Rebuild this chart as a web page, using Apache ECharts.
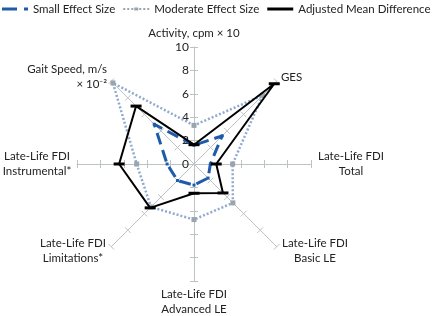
<!DOCTYPE html>
<html>
<head>
<meta charset="utf-8">
<script src="https://cdn.jsdelivr.net/npm/echarts@6/dist/echarts.min.js"></script>
<style>
  html, body { margin: 0; padding: 0; background: #fff; }
  #chart { width: 432px; height: 316px; }
</style>
</head>
<body>
<div id="chart"></div>
<script>
// axes, clockwise from the top
var axisNames = ['Activity, cpm × 10', 'GES', 'Late-Life FDI\nTotal', 'Late-Life FDI\nBasic LE',
    'Late-Life FDI\nAdvanced LE', 'Late-Life FDI\nLimitations*', 'Late-Life FDI\nInstrumental*', 'Gait Speed, m/s\n× 10⁻²'];
var smallEffect = [1.6, 3.4, 1.4, 1.7, 1.8, 2.0, 2.3, 4.8];
var moderateEffect = [3.3, 8.3, 3.3, 4.7, 4.75, 5.2, 4.9, 9.8];
var adjustedDiff = [1.65, 9.7, 1.9, 3.5, 2.5, 5.3, 6.4, 7.0];
var seriesNames = ['Small Effect Size', 'Moderate Effect Size', 'Adjusted Mean Difference'];

// echarts lays radar axes out counter-clockwise, so flip the order after the first
var order = [0, 7, 6, 5, 4, 3, 2, 1];
function reorder(arr) {
    return order.map(function (i) { return arr[i]; });
}

var font = 'Lato, "Noto Sans", sans-serif';
var grey = '#bcc3c4';

// legend icons drawn like the excel ones (line + marker)
var iconSmall = 'path://M0,0h15v3h-15z M22,0h3v3h-3z M25,0h1v3h-1z';
var iconModerate = 'path://M0,0.5h2v2h-2z M4,0.5h2v2h-2z M8,0.5h2v2h-2z M11,0h4v3h-4z M16,0.5h2v2h-2z M20,0.5h2v2h-2z M24,0.5h2v2h-2z';
var iconAdjusted = 'path://M0,0h26v3h-26z';

var radarBase = {
    center: [194, 164],
    radius: 117,
    startAngle: 90,
    splitNumber: 5,
    shape: 'polygon',
    splitLine: {show: false},
    splitArea: {show: false}
};

var chart = echarts.init(document.getElementById('chart'));
chart.setOption({
    animation: false,
    legend: {
        top: 3,
        left: 2,
        padding: 0,
        itemGap: 8,
        itemWidth: 26,
        itemHeight: 3,
        textStyle: {fontFamily: font, fontSize: 11.5, color: '#222'},
        data: [
            {name: seriesNames[0], icon: iconSmall},
            {name: seriesNames[1], icon: iconModerate},
            {name: seriesNames[2], icon: iconAdjusted}
        ]
    },
    radar: [
        Object.assign({}, radarBase, {
            axisName: {
                fontFamily: font, fontSize: 11.5, color: '#222', lineHeight: 15,
                formatter: function (name) {
                    if (name.indexOf('Late-Life') === 0) {
                        return name.split('\n').map(function (s) { return '{c|' + s + '}'; }).join('\n');
                    }
                    return name;
                },
                rich: {
                    c: {fontFamily: font, fontSize: 11.5, color: '#222', lineHeight: 15, width: 68, align: 'center'}
                }
            },
            nameGap: 6,
            axisLine: {lineStyle: {color: grey, width: 1}},
            axisTick: {show: true, length: 4, lineStyle: {color: grey}},
            axisLabel: {show: false},
            indicator: reorder(axisNames).map(function (n, i) {
                var ind = {name: n, min: 0, max: 10};
                if (i === 0) {
                    ind.axisLabel = {show: true, fontFamily: font, fontSize: 12, color: '#222', margin: 5};
                }
                return ind;
            })
        }),
        // second copy only for the other half of the crossing ticks
        Object.assign({}, radarBase, {
            axisName: {show: false},
            axisLine: {show: false},
            axisTick: {show: true, length: -4, lineStyle: {color: grey}},
            axisLabel: {show: false},
            indicator: reorder(axisNames).map(function (n) {
                return {name: n, min: 0, max: 10};
            })
        })
    ],
    series: [
        {
            type: 'radar',
            radarIndex: 0,
            z: 3,
            symbol: 'rect',
            symbolSize: 3,
            data: [{
                name: seriesNames[0],
                value: reorder(smallEffect),
                itemStyle: {color: '#1f5bab'},
                lineStyle: {color: '#1f5bab', width: 3, type: [12, 6]}
            }]
        },
        {
            type: 'radar',
            radarIndex: 0,
            z: 2,
            symbol: 'rect',
            symbolSize: 5,
            data: [{
                name: seriesNames[1],
                value: reorder(moderateEffect),
                itemStyle: {color: '#9aa4ae'},
                lineStyle: {color: '#8faacd', width: 2.5, type: [2, 2]}
            }]
        },
        {
            type: 'radar',
            radarIndex: 0,
            z: 4,
            symbol: 'rect',
            symbolSize: [11, 3],
            data: [{
                name: seriesNames[2],
                value: reorder(adjustedDiff),
                itemStyle: {color: '#000'},
                lineStyle: {color: '#000', width: 2}
            }]
        }
    ]
});
</script>
</body>
</html>
